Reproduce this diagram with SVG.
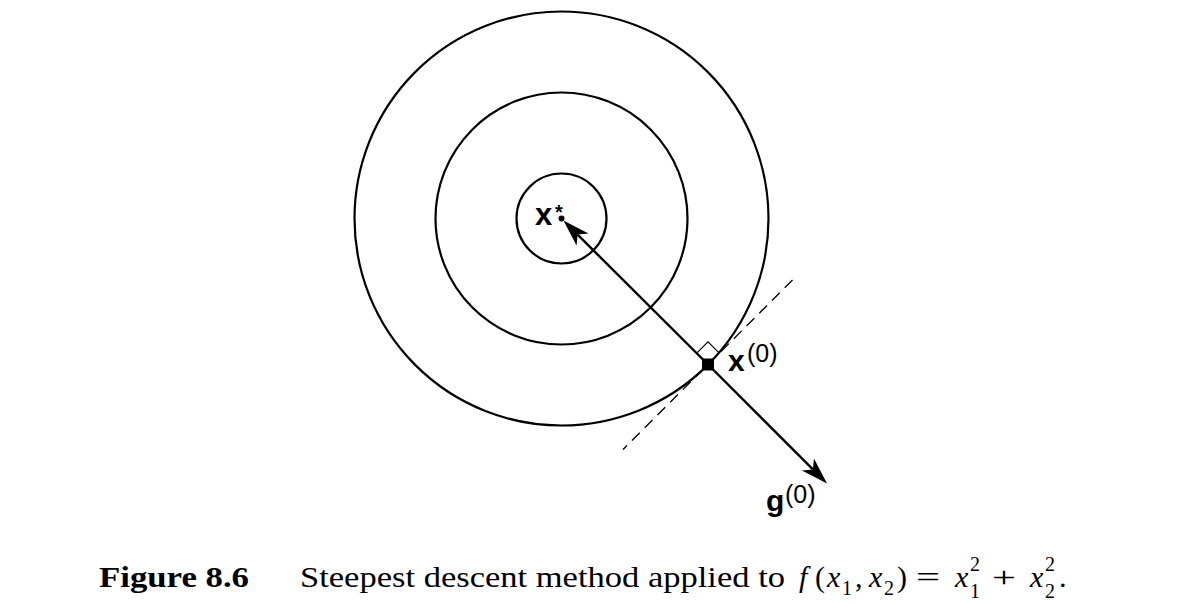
<svg xmlns="http://www.w3.org/2000/svg" width="1184" height="604" viewBox="0 0 1184 604">
<style>
.ring{fill:none;stroke:#000;stroke-width:2.2}
.arr{fill:none;stroke:#000;stroke-width:2.4}
.tan{fill:none;stroke:#000;stroke-width:1.3;stroke-dasharray:11 7}
.lbl{font-family:"Liberation Sans",Arial,sans-serif;font-weight:bold;fill:#000}
.sup{font-family:"Liberation Sans",Arial,sans-serif;fill:#000}
.cap{font-family:"Liberation Serif","DejaVu Serif",serif;font-size:30px;fill:#000}
.it{font-style:italic}
.scr{font-size:20px}
</style>
<defs>
<marker id="ah" viewBox="-28 -10 30 20" refX="-20" refY="0" markerWidth="30" markerHeight="20" markerUnits="userSpaceOnUse" orient="auto">
<path d="M0,0 L-27,-8.5 L-20,0 L-27,8.5 Z" fill="#000"/>
</marker>
</defs>
<rect width="1184" height="604" fill="#fff"/>
<g id="level-sets">
<circle class="ring" cx="561.5" cy="218.5" r="45"/>
<circle class="ring" cx="561.5" cy="218.5" r="126"/>
<circle class="ring" cx="561.5" cy="218.5" r="207"/>
</g>
<g id="connectors">
<line class="tan" x1="792.5" y1="280" x2="623" y2="449.5"/>
<line class="arr" x1="708" y1="364.5" x2="577.6" y2="234.6" marker-end="url(#ah)"/>
<line class="arr" x1="708" y1="364.5" x2="812.9" y2="469.4" marker-end="url(#ah)"/>
<polyline points="696.7,353.2 708,341.9 719.3,353.2" fill="none" stroke="#000" stroke-width="1.2"/>
</g>
<g id="xstar">
<circle cx="561.5" cy="218.5" r="3" fill="#000"/>
<text class="lbl" x="535" y="225" font-size="31">x</text>
<text class="lbl" x="555" y="219" font-size="20">*</text>
</g>
<g id="x0">
<rect x="702" y="358.5" width="12" height="12" fill="#000"/>
<text class="lbl" x="728" y="371" font-size="30">x</text>
<text class="sup" x="747" y="362" font-size="25">(0)</text>
</g>
<g id="g0">
<text class="lbl" x="766" y="511" font-size="30">g</text>
<text class="sup" x="785" y="503" font-size="25">(0)</text>
</g>
<g id="caption">
<text class="cap" x="99" y="587" font-weight="bold" textLength="150" lengthAdjust="spacingAndGlyphs">Figure 8.6</text>
<text class="cap" x="300" y="587" textLength="485" lengthAdjust="spacingAndGlyphs">Steepest descent method applied to</text>
<text class="cap it" x="799" y="587">f</text>
<text class="cap" x="815" y="587">(</text>
<text class="cap it" x="827" y="587">x</text>
<text class="cap scr" x="842" y="595">1</text>
<text class="cap" x="855" y="587">,</text>
<text class="cap it" x="869" y="587">x</text>
<text class="cap scr" x="884" y="595">2</text>
<text class="cap" x="897" y="587">)</text>
<text class="cap" x="916" y="587" textLength="24" lengthAdjust="spacingAndGlyphs">=</text>
<text class="cap it" x="955" y="587">x</text>
<text class="cap scr" x="970" y="571">2</text>
<text class="cap scr" x="970" y="598">1</text>
<text class="cap" x="992" y="587" textLength="24" lengthAdjust="spacingAndGlyphs">+</text>
<text class="cap it" x="1030" y="587">x</text>
<text class="cap scr" x="1045" y="571">2</text>
<text class="cap scr" x="1045" y="598">2</text>
<text class="cap" x="1059" y="587">.</text>
</g>
</svg>
